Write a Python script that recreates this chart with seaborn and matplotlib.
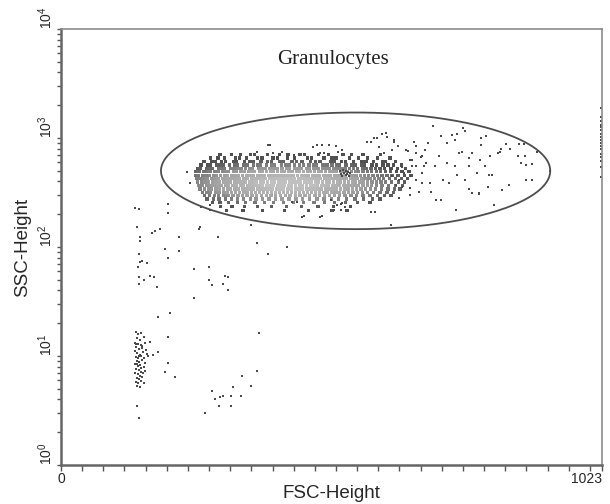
import numpy as np
import pandas as pd
import matplotlib
matplotlib.use("Agg")
import matplotlib.pyplot as plt
from matplotlib.ticker import NullFormatter
from matplotlib.colors import LinearSegmentedColormap
import seaborn as sns

sns.set_theme(style="ticks")
plt.rcParams['font.family'] = ['Liberation Sans', 'DejaVu Sans']

#%% DATA (FSC channel 0-1023, SSC on log scale)

# dense granulocyte cloud: one SSC level per row, FSC channels along the row
core_ssc = [710, 655, 610, 565, 525, 490, 455, 425, 395, 368, 342, 318, 296, 275, 255, 235, 215]
core_fsc = [
    [301, 322, 339, 358, 366, 390, 413, 429, 452, 460, 487, 506, 533, 549, 571, 604],
    [283, 297, 309, 330, 338, 351, 372, 380, 401, 409, 428, 441, 466, 474, 497, 512, 520, 545, 563, 579, 598, 622],
    [270, 284, 291, 303, 311, 326, 331, 347, 356, 363, 378, 390, 398, 414, 421, 437, 445, 456, 472, 481, 490, 509,
     516, 530, 538, 553, 569, 577, 591, 608, 614, 633],
    [265, 277, 282, 294, 301, 307, 319, 328, 333, 345, 352, 364, 371, 377, 389, 398, 404, 417, 425, 431, 442, 451,
     458, 469, 478, 483, 495, 503, 512, 521, 527, 539, 549, 556, 568, 574, 588, 597, 609, 618, 629, 644],
    [258, 264, 275, 281, 287, 298, 304, 309, 320, 327, 335, 341, 349, 357, 362, 373, 380, 386, 395, 403, 409, 418,
     426, 432, 441, 448, 455, 464, 470, 478, 486, 494, 501, 507, 516, 524, 531, 537, 546, 553, 561, 570, 577, 586,
     595, 603, 612, 624, 636, 651],
    [255, 261, 270, 277, 282, 291, 298, 305, 311, 317, 326, 332, 339, 346, 354, 360, 366, 375, 381, 388, 396, 402,
     409, 417, 423, 430, 437, 445, 451, 458, 466, 472, 479, 487, 493, 500, 508, 514, 521, 529, 535, 542, 549, 557,
     563, 571, 579, 587, 596, 604, 613, 623, 634, 645, 658],
    [254, 259, 268, 274, 281, 289, 294, 302, 309, 315, 323, 330, 336, 343, 351, 357, 364, 371, 378, 384, 392, 399,
     405, 412, 420, 427, 433, 440, 447, 455, 461, 468, 476, 482, 489, 497, 503, 510, 518, 524, 531, 538, 545, 552,
     559, 566, 574, 581, 590, 598, 607, 616, 626, 637, 649, 662],
    [256, 263, 270, 276, 284, 290, 297, 305, 311, 318, 325, 332, 338, 346, 352, 360, 367, 373, 380, 387, 394, 401,
     408, 414, 422, 429, 435, 442, 450, 456, 463, 471, 477, 484, 491, 499, 505, 512, 520, 526, 533, 540, 548, 554,
     561, 569, 577, 584, 593, 601, 610, 621, 632, 644, 655],
    [258, 266, 272, 279, 287, 293, 300, 308, 314, 321, 328, 335, 342, 349, 356, 363, 369, 377, 383, 390, 398, 404,
     411, 418, 425, 432, 439, 446, 452, 460, 467, 473, 481, 487, 494, 502, 508, 515, 523, 529, 536, 544, 551, 557,
     565, 572, 580, 588, 596, 605, 614, 625, 638, 650],
    [261, 268, 276, 283, 289, 297, 304, 311, 317, 325, 331, 339, 345, 353, 359, 367, 374, 380, 388, 394, 401, 409,
     415, 422, 430, 436, 443, 451, 457, 464, 472, 478, 485, 493, 499, 506, 514, 520, 527, 535, 541, 548, 556, 563,
     571, 579, 587, 597, 607, 619, 632, 646],
    [263, 271, 279, 285, 293, 300, 307, 315, 321, 329, 336, 343, 350, 357, 364, 372, 378, 386, 393, 400, 407, 414,
     421, 429, 435, 443, 450, 457, 464, 471, 478, 486, 492, 500, 507, 514, 521, 529, 536, 543, 551, 559, 567, 576,
     585, 595, 606, 618, 631, 641],
    [267, 276, 283, 292, 299, 307, 314, 322, 330, 337, 345, 352, 360, 368, 375, 383, 390, 398, 405, 413, 421, 428,
     436, 443, 451, 459, 466, 474, 481, 489, 497, 504, 512, 520, 527, 535, 544, 552, 561, 570, 580, 591, 603, 616, 629],
    [271, 281, 290, 298, 308, 316, 325, 335, 343, 352, 361, 370, 379, 388, 397, 406, 415, 424, 433, 443, 452, 461,
     470, 480, 489, 498, 508, 517, 527, 537, 548, 559, 571, 584, 598, 612, 624],
    [276, 288, 299, 311, 322, 334, 345, 358, 369, 381, 393, 406, 418, 431, 444, 457, 470, 484, 497, 511, 525, 540,
     556, 572, 589, 603],
    [286, 301, 317, 334, 349, 367, 385, 402, 421, 440, 459, 478, 498, 517, 538, 561, 584],
    [302, 323, 347, 372, 398, 426, 455, 486, 515, 547],
    [313, 344, 381, 423, 468, 512, 541],
]

# dark knot inside the cloud
knot_fsc = [528, 533, 538, 543, 530, 536, 541, 546, 532, 539, 544]
knot_ssc = [500, 505, 498, 492, 470, 474, 468, 478, 452, 458, 449]

# scattered granulocytes (right tail, above and below the cloud)
gran_fsc = [704, 760, 763, 748, 745, 719, 730, 752, 693, 689, 682, 671, 656, 663, 615, 598, 630, 638, 586,
            804, 841, 875, 878, 890, 891, 827, 812, 801, 786, 815, 790, 771, 763, 748, 734, 723, 700, 697, 682,
            671, 663, 648, 645, 660, 634, 626, 719, 778, 793, 830, 849, 864, 715, 708, 730, 771, 745, 686, 671,
            740, 794, 794, 832, 866, 900, 870, 879, 879, 810, 777, 758, 772, 834, 819, 747, 709, 847,
            460, 493, 530, 537, 593, 623, 790, 808, 489, 511, 521, 530, 517, 532, 587,
            494, 519, 532, 498, 489, 477, 579, 592, 606, 617, 630, 602, 611, 626, 653, 668, 672, 659, 681, 645,
            690, 640, 683, 659, 677, 640, 296, 391, 370, 400, 417, 441, 395, 484, 506, 523,
            281, 281, 342, 436, 447, 455, 238, 244]
gran_ssc = [1290, 1230, 1150, 1080, 960, 1050, 900, 727, 900, 780, 680, 837, 760, 630, 1110, 1010, 963, 837, 920,
            1040, 880, 880, 680, 580, 410, 727, 680, 548, 476, 460, 312, 340, 414, 460, 385, 414, 320, 385, 476,
            414, 548, 476, 359, 300, 370, 445, 271, 727, 631, 750, 800, 680, 680, 548, 590, 548, 548, 548, 548,
            1066, 1000, 863, 800, 890, 740, 590, 565, 412, 458, 312, 740, 660, 333, 243, 218, 270, 371,
            194, 194, 250, 235, 210, 160, 305, 359, 190, 270, 243, 218, 218, 253, 210,
            863, 845, 776, 730, 730, 820, 920, 1000, 1100, 1020, 920, 820, 730, 776, 776, 920, 730, 628, 670, 540,
            590, 412, 384, 345, 318, 280, 650, 863, 748, 730, 748, 700, 868, 855, 855, 750,
            243, 218, 218, 260, 260, 190, 488, 385]

# events piled up in the last FSC channel
edge_ssc = [1885, 1560, 1430, 1330, 1250, 1175, 1100, 1030, 965, 905, 845, 785, 720, 665, 610, 545, 440]

# lymphocyte / debris strip at low FSC
strip_fsc = [141, 146, 152, 143, 149, 156, 140, 145, 151, 158, 142, 147, 153, 160, 140, 144, 149, 155, 162,
             141, 146, 151, 157, 164, 143, 148, 153, 159, 140, 145, 150, 156, 142, 147, 152, 158, 140, 145,
             150, 155, 143, 148, 153, 141, 146, 151, 144, 149, 156, 142, 154, 147, 144, 151, 146]
strip_ssc = [16.5, 15.8, 16.2, 14.6, 14.1, 14.9, 13.2, 13.0, 12.6, 13.1, 12.0, 11.6, 11.9, 11.3, 11.0, 10.6,
             10.3, 10.8, 10.4, 9.8, 9.5, 9.9, 9.6, 9.9, 9.0, 8.8, 9.1, 8.7, 8.4, 8.1, 8.3, 8.0, 7.6, 7.4, 7.7,
             7.3, 7.0, 6.8, 6.6, 7.0, 6.3, 6.1, 6.4, 5.8, 5.6, 5.9, 5.3, 5.2, 5.6, 12.8, 12.3, 10.1, 8.5, 7.1, 6.9]

# other events outside the gate
debris_fsc = [140, 147, 202, 202, 143, 149, 149, 172, 177, 187, 223, 260, 296, 196, 202, 223, 147, 149, 145,
              153, 162, 147, 157, 168, 175, 181, 147, 251, 279, 279, 285, 306, 315, 311, 315, 251, 359, 370,
              391, 428, 264, 262, 183, 207, 183, 174, 168, 202, 202, 196, 215, 374, 143, 147, 285, 291, 300,
              306, 298, 321, 321, 326, 340, 342, 360, 370, 272]
debris_ssc = [228, 222, 247, 205, 152, 123, 113, 134, 140, 146, 123, 146, 123, 96, 79, 92, 86, 73, 65, 74, 71,
              53, 50, 54, 53, 43, 46, 63, 65, 50, 45, 46, 53, 54, 40, 34, 159, 108, 86, 100, 233, 152, 23,
              24.8, 10.9, 10.2, 13.4, 14.9, 8.6, 7.1, 6.4, 16.2, 3.5, 2.7, 4.8, 4.0, 4.2, 4.3, 3.5, 3.5, 4.3,
              5.2, 4.3, 6.5, 5.3, 7.3, 3.0]

# elliptical gate: centre and half-widths (FSC channels, SSC decades)
gate_fsc_center, gate_fsc_half = 557, 368
gate_ssc_center, gate_decades_half = 500, 0.535

#%% TABLE

core = pd.DataFrame([(f, s) for s, row in zip(core_ssc, core_fsc) for f in row], columns=['FSC', 'SSC'])
# the middle of the cloud prints lighter: shade by distance from the cloud centre
core['dist'] = np.sqrt(((core['FSC'] - 430) / 175) ** 2 + ((np.log10(core['SSC']) - 2.58) / 0.17) ** 2)

others = pd.concat([
    pd.DataFrame({'FSC': knot_fsc, 'SSC': knot_ssc}),
    pd.DataFrame({'FSC': gran_fsc, 'SSC': gran_ssc}),
    pd.DataFrame({'FSC': [1021] * len(edge_ssc), 'SSC': edge_ssc}),
    pd.DataFrame({'FSC': strip_fsc, 'SSC': strip_ssc}),
    pd.DataFrame({'FSC': debris_fsc, 'SSC': debris_ssc}),
], ignore_index=True)

#%% FIGURE

fig = plt.figure(figsize=(6.1, 5.04), dpi=100)
ax = fig.add_axes([0.1, 0.0774, 0.887, 0.865])

greys = LinearSegmentedColormap.from_list('dots', ['#c0c0c0', '#a2a2a2', '#505050'])
sns.scatterplot(data=core, x='FSC', y='SSC', hue='dist', palette=greys, hue_norm=(0.25, 1.35),
                marker='s', s=6, linewidth=0, legend=False, ax=ax)
sns.scatterplot(data=others, x='FSC', y='SSC', color='#4a4a4a',
                marker='s', s=3.5, linewidth=0, ax=ax)

t = np.linspace(0, 2 * np.pi, 300)
ax.plot(gate_fsc_center + gate_fsc_half * np.cos(t),
        10 ** (np.log10(gate_ssc_center) + gate_decades_half * np.sin(t)),
        color='#4d4d4d', lw=1.3)

ax.text(515, 5230, 'Granulocytes', family=['Liberation Serif', 'DejaVu Serif'],
        fontsize=15, ha='center', va='center', color='#222222')

ax.set_yscale('log')
ax.set_xlim(0, 1023)
ax.set_ylim(1, 1e4)

ax.set_xticks([0, 1023])
ax.set_xticklabels(['0', '1023'])
ax.get_xticklabels()[1].set_ha('right')
ax.set_xticks(np.arange(0, 1001, 40), minor=True)
ax.set_yticks([1, 10, 100, 1000, 10000])
ax.yaxis.set_minor_formatter(NullFormatter())

ax.tick_params(axis='x', which='both', direction='out', length=4, width=1,
               color='#555555', labelsize=10, pad=1)
ax.tick_params(axis='y', which='both', direction='out', length=3, width=1,
               color='#555555', labelsize=10, labelrotation=90, pad=1)
plt.setp(ax.get_yticklabels(), va='bottom')

for side in ['left', 'bottom']:
    ax.spines[side].set_color('#666666')
    ax.spines[side].set_linewidth(1.8)
for side in ['top', 'right']:
    ax.spines[side].set_color('#8c8c8c')
    ax.spines[side].set_linewidth(1.2)

ax.set_xlabel('FSC-Height', fontsize=13.5, labelpad=-1)
ax.set_ylabel('SSC-Height', fontsize=13.5, labelpad=4)

fig.savefig('out.png', dpi=100)
